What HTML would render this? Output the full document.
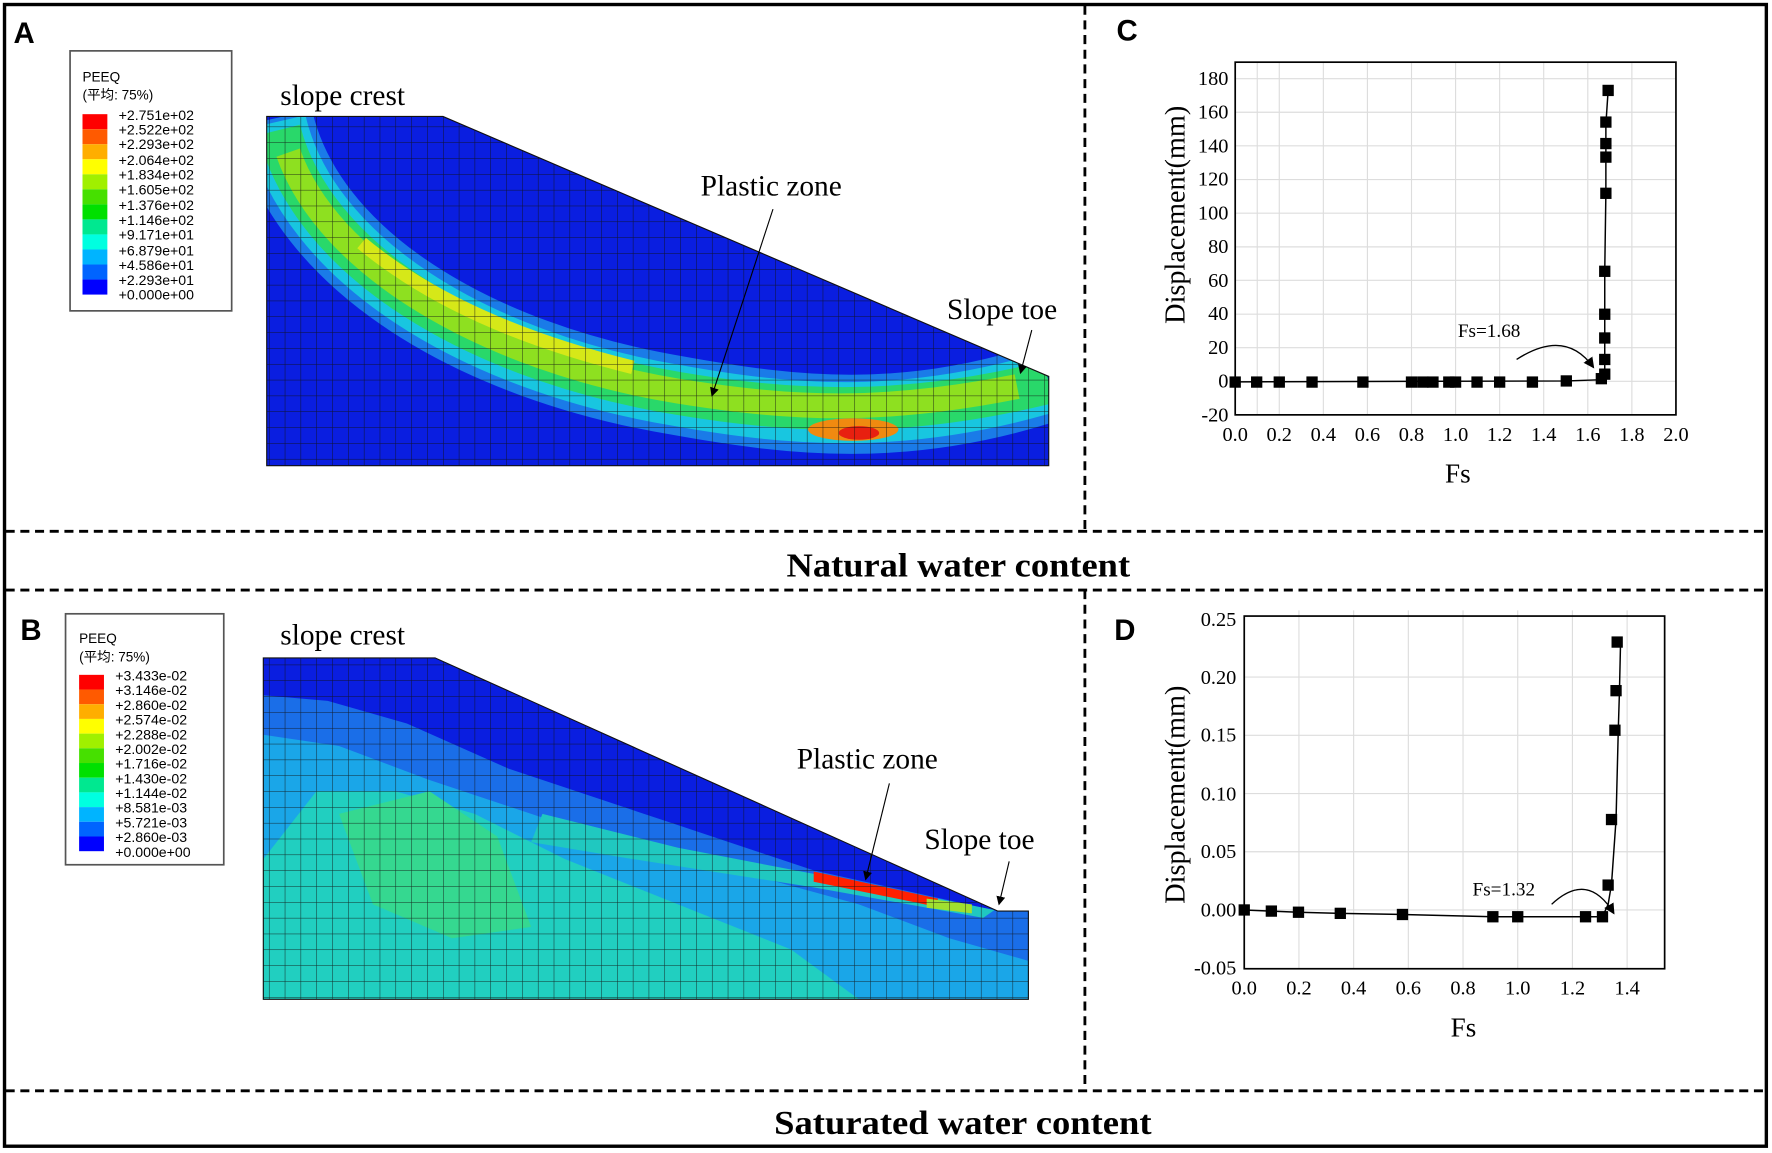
<!DOCTYPE html>
<html><head><meta charset="utf-8"><style>
html,body{margin:0;padding:0;background:#fff;}
svg{display:block;}
.t{font-family:"Liberation Serif",serif;}
.s{font-family:"Liberation Sans","Noto Sans CJK SC",sans-serif;}
</style></head><body>
<svg width="1772" height="1153" viewBox="0 0 1568 1020" preserveAspectRatio="none" xmlns="http://www.w3.org/2000/svg">
<defs>
<pattern id="mesh" width="14" height="14" patternUnits="userSpaceOnUse">
<path d="M0 0H14M0 0V14" stroke="#111" stroke-width="0.9" fill="none"/>
</pattern>
<clipPath id="ca"><polygon points="236,103 392,103 928,333 928,412 236,412"/></clipPath>
<clipPath id="cb"><polygon points="233,582 385,582 883,806 910,806 910,884 233,884"/></clipPath>
<marker id="ar" markerWidth="8" markerHeight="8" refX="7" refY="4" orient="auto"><path d="M0,0 L8,4 L0,8 z" fill="#000"/></marker>
</defs>
<rect x="0" y="0" width="1568" height="1020" fill="#fff"/>
<rect x="4" y="4" width="1559" height="1010" fill="none" stroke="#000" stroke-width="3"/>
<g stroke="#000" stroke-width="2.5" stroke-dasharray="8,5">
<line x1="960" y1="5" x2="960" y2="470"/>
<line x1="960" y1="522" x2="960" y2="965"/>
<line x1="5" y1="470" x2="1562" y2="470"/>
<line x1="5" y1="522" x2="1562" y2="522"/>
<line x1="5" y1="965" x2="1562" y2="965"/>
</g>
<text x="848" y="510" text-anchor="middle" class="t" font-size="30" font-weight="bold" textLength="304" lengthAdjust="spacingAndGlyphs">Natural water content</text>
<text x="852" y="1003" text-anchor="middle" class="t" font-size="30" font-weight="bold" textLength="334" lengthAdjust="spacingAndGlyphs">Saturated water content</text>
<g class="s" font-size="26" font-weight="bold">
<text x="12" y="38">A</text><text x="18" y="566">B</text>
<text x="988" y="36">C</text><text x="986" y="566">D</text>
</g>

<!-- Panel A -->
<g clip-path="url(#ca)">
<rect x="236" y="103" width="692" height="309" fill="#0a1ee0"/>
<path d="M242 105 C270 230 420 320 600 350 C700 368 800 380 928 338" fill="none" stroke="#1a7be8" stroke-width="70"/>
<path d="M244 108 C272 230 420 320 600 350 C700 368 800 376 928 338" fill="none" stroke="#18c6e0" stroke-width="54"/>
<path d="M247 115 C276 230 420 318 600 348 C700 365 800 370 928 338" fill="none" stroke="#29d86a" stroke-width="38"/>
<path d="M255 135 C290 235 430 318 600 346 C700 362 780 366 900 342" fill="none" stroke="#8ee020" stroke-width="22"/>
<path d="M320 215 C380 265 460 300 560 325" fill="none" stroke="#d6e818" stroke-width="12"/>
<ellipse cx="755" cy="380" rx="40" ry="10" fill="#f08a10"/>
<ellipse cx="760" cy="383" rx="18" ry="6" fill="#e82010"/>
<rect x="236" y="103" width="692" height="309" fill="url(#mesh)" opacity="0.85"/>
</g>
<polygon points="236,103 392,103 928,333 928,412 236,412" fill="none" stroke="#111" stroke-width="1"/>
<rect x="62" y="45" width="143" height="230" fill="#fff" stroke="#555" stroke-width="1.5"/>
<text x="73" y="72" class="s" font-size="12">PEEQ</text>
<text x="73" y="88" class="s" font-size="12">(平均: 75%)</text>
<g>
<rect x="73" y="101" width="22" height="13.3" fill="#ff0000"/>
<rect x="73" y="114.3" width="22" height="13.3" fill="#ff5a00"/>
<rect x="73" y="127.6" width="22" height="13.3" fill="#ffae00"/>
<rect x="73" y="140.9" width="22" height="13.3" fill="#ffff00"/>
<rect x="73" y="154.2" width="22" height="13.3" fill="#a0f000"/>
<rect x="73" y="167.5" width="22" height="13.3" fill="#46e000"/>
<rect x="73" y="180.8" width="22" height="13.3" fill="#00e000"/>
<rect x="73" y="194.1" width="22" height="13.3" fill="#00e890"/>
<rect x="73" y="207.4" width="22" height="13.3" fill="#00ffe0"/>
<rect x="73" y="220.7" width="22" height="13.3" fill="#00b4ff"/>
<rect x="73" y="234" width="22" height="13.3" fill="#0064ff"/>
<rect x="73" y="247.3" width="22" height="13.3" fill="#0000ff"/>
</g>
<g class="s" font-size="12.5">
<text x="105" y="106">+2.751e+02</text><text x="105" y="119">+2.522e+02</text><text x="105" y="132">+2.293e+02</text><text x="105" y="146">+2.064e+02</text><text x="105" y="159">+1.834e+02</text><text x="105" y="172">+1.605e+02</text><text x="105" y="186">+1.376e+02</text><text x="105" y="199">+1.146e+02</text><text x="105" y="212">+9.171e+01</text><text x="105" y="226">+6.879e+01</text><text x="105" y="239">+4.586e+01</text><text x="105" y="252">+2.293e+01</text><text x="105" y="265">+0.000e+00</text>
</g>
<g class="t" font-size="26">
<text x="248" y="93">slope crest</text>
<text x="620" y="173">Plastic zone</text>
<text x="838" y="282">Slope toe</text>
</g>
<line x1="684" y1="185" x2="630" y2="350" stroke="#000" stroke-width="1" marker-end="url(#ar)"/>
<line x1="913" y1="292" x2="903" y2="330" stroke="#000" stroke-width="1" marker-end="url(#ar)"/>

<!-- Panel B -->
<g clip-path="url(#cb)">
<rect x="233" y="582" width="677" height="302" fill="#0a1ee0"/>
<polygon points="233,615 290,620 360,640 450,680 600,730 720,770 883,806 910,806 910,884 233,884" fill="#1a6ee8"/>
<polygon points="233,650 300,660 380,690 500,730 650,770 760,800 840,830 910,850 910,884 233,884" fill="#1aa6e8"/>
<polygon points="233,760 280,700 350,700 420,720 500,760 600,800 700,840 760,884 233,884" fill="#21cfc0"/>
<polygon points="300,720 380,700 440,740 470,820 400,830 330,800" fill="#35d890"/>
<polygon points="480,720 600,750 730,775 880,805 870,812 720,785 560,760 470,745" fill="#20c8c0"/>
<polygon points="720,771 830,795 828,802 720,780" fill="#ff2000"/>
<polygon points="820,795 860,800 860,808 820,803" fill="#a0e030"/>
<rect x="233" y="582" width="677" height="302" fill="url(#mesh)" opacity="0.85"/>
</g>
<polygon points="233,582 385,582 883,806 910,806 910,884 233,884" fill="none" stroke="#111" stroke-width="1"/>
<rect x="58" y="543" width="140" height="222" fill="#fff" stroke="#555" stroke-width="1.5"/>
<text x="70" y="569" class="s" font-size="12">PEEQ</text>
<text x="70" y="585" class="s" font-size="12">(平均: 75%)</text>
<g>
<rect x="70" y="597" width="22" height="13" fill="#ff0000"/>
<rect x="70" y="610" width="22" height="13" fill="#ff5a00"/>
<rect x="70" y="623" width="22" height="13" fill="#ffae00"/>
<rect x="70" y="636" width="22" height="13" fill="#ffff00"/>
<rect x="70" y="649" width="22" height="13" fill="#a0f000"/>
<rect x="70" y="662" width="22" height="13" fill="#46e000"/>
<rect x="70" y="675" width="22" height="13" fill="#00e000"/>
<rect x="70" y="688" width="22" height="13" fill="#00e890"/>
<rect x="70" y="701" width="22" height="13" fill="#00ffe0"/>
<rect x="70" y="714" width="22" height="13" fill="#00b4ff"/>
<rect x="70" y="727" width="22" height="13" fill="#0064ff"/>
<rect x="70" y="740" width="22" height="13" fill="#0000ff"/>
</g>
<g class="s" font-size="12.5">
<text x="102" y="602">+3.433e-02</text><text x="102" y="615">+3.146e-02</text><text x="102" y="628">+2.860e-02</text><text x="102" y="641">+2.574e-02</text><text x="102" y="654">+2.288e-02</text><text x="102" y="667">+2.002e-02</text><text x="102" y="680">+1.716e-02</text><text x="102" y="693">+1.430e-02</text><text x="102" y="706">+1.144e-02</text><text x="102" y="719">+8.581e-03</text><text x="102" y="732">+5.721e-03</text><text x="102" y="745">+2.860e-03</text><text x="102" y="758">+0.000e+00</text>
</g>
<g class="t" font-size="26">
<text x="248" y="570">slope crest</text>
<text x="705" y="680">Plastic zone</text>
<text x="818" y="751">Slope toe</text>
</g>
<line x1="787" y1="693" x2="766" y2="778" stroke="#000" stroke-width="1" marker-end="url(#ar)"/>
<line x1="893" y1="762" x2="884" y2="800" stroke="#000" stroke-width="1" marker-end="url(#ar)"/>

<!-- Panel C -->
<g stroke="#ddd" stroke-width="1">
<line x1="1112.5" y1="55" x2="1112.5" y2="367"/><line x1="1132" y1="55" x2="1132" y2="367"/><line x1="1171" y1="55" x2="1171" y2="367"/><line x1="1210" y1="55" x2="1210" y2="367"/><line x1="1249" y1="55" x2="1249" y2="367"/><line x1="1288" y1="55" x2="1288" y2="367"/><line x1="1327" y1="55" x2="1327" y2="367"/><line x1="1366" y1="55" x2="1366" y2="367"/><line x1="1405" y1="55" x2="1405" y2="367"/><line x1="1444" y1="55" x2="1444" y2="367"/>
<line x1="1093" y1="69.6" x2="1483" y2="69.6"/><line x1="1093" y1="99.3" x2="1483" y2="99.3"/><line x1="1093" y1="129" x2="1483" y2="129"/><line x1="1093" y1="158.9" x2="1483" y2="158.9"/><line x1="1093" y1="188.6" x2="1483" y2="188.6"/><line x1="1093" y1="218.4" x2="1483" y2="218.4"/><line x1="1093" y1="248" x2="1483" y2="248"/><line x1="1093" y1="277.9" x2="1483" y2="277.9"/><line x1="1093" y1="307.6" x2="1483" y2="307.6"/><line x1="1093" y1="337.3" x2="1483" y2="337.3"/>
</g>
<rect x="1093" y="55" width="390" height="312" fill="none" stroke="#000" stroke-width="1.5"/>
<g class="t" font-size="18" text-anchor="end">
<text x="1087" y="75">180</text><text x="1087" y="105">160</text><text x="1087" y="135">140</text><text x="1087" y="164">120</text><text x="1087" y="194">100</text><text x="1087" y="224">80</text><text x="1087" y="254">60</text><text x="1087" y="283">40</text><text x="1087" y="313">20</text><text x="1087" y="343">0</text><text x="1087" y="373">-20</text>
</g>
<g class="t" font-size="18" text-anchor="middle">
<text x="1093" y="390">0.0</text><text x="1132" y="390">0.2</text><text x="1171" y="390">0.4</text><text x="1210" y="390">0.6</text><text x="1249" y="390">0.8</text><text x="1288" y="390">1.0</text><text x="1327" y="390">1.2</text><text x="1366" y="390">1.4</text><text x="1405" y="390">1.6</text><text x="1444" y="390">1.8</text><text x="1483" y="390">2.0</text>
</g>
<text x="1290" y="427" class="t" font-size="24" text-anchor="middle">Fs</text>
<text transform="translate(1048,190) rotate(-90)" class="t" font-size="25" text-anchor="middle">Displacement(mm)</text>
<polyline fill="none" stroke="#000" stroke-width="1.3" points="1093,337.8 1386,337 1415,336 1418,334 1420,331 1420,318 1420,299 1420,278 1420,240 1421,171 1421,141 1421,130 1421,110 1423,80"/>
<g fill="#000">
<rect x="1088" y="333" width="10" height="10"/><rect x="1107" y="333" width="10" height="10"/><rect x="1127" y="333" width="10" height="10"/><rect x="1156" y="333" width="10" height="10"/><rect x="1201" y="333" width="10" height="10"/><rect x="1244" y="333" width="10" height="10"/><rect x="1254" y="333" width="10" height="10"/><rect x="1263" y="333" width="10" height="10"/><rect x="1277" y="333" width="10" height="10"/><rect x="1283" y="333" width="10" height="10"/><rect x="1302" y="333" width="10" height="10"/><rect x="1322" y="333" width="10" height="10"/><rect x="1351" y="333" width="10" height="10"/><rect x="1381" y="332" width="10" height="10"/><rect x="1412" y="330" width="10" height="10"/><rect x="1415" y="326" width="10" height="10"/><rect x="1415" y="313" width="10" height="10"/><rect x="1415" y="294" width="10" height="10"/><rect x="1415" y="273" width="10" height="10"/><rect x="1415" y="235" width="10" height="10"/><rect x="1416" y="166" width="10" height="10"/><rect x="1416" y="134" width="10" height="10"/><rect x="1416" y="122" width="10" height="10"/><rect x="1416" y="103" width="10" height="10"/><rect x="1418" y="75" width="10" height="10"/>
</g>
<text x="1290" y="298" class="t" font-size="17">Fs=1.68</text>
<path d="M1342 318 Q1385 290 1410 325" fill="none" stroke="#000" stroke-width="1.2" marker-end="url(#ar)"/>

<!-- Panel D -->
<g stroke="#ddd" stroke-width="1">
<line x1="1149.4" y1="540" x2="1149.4" y2="857"/><line x1="1197.8" y1="540" x2="1197.8" y2="857"/><line x1="1246.2" y1="540" x2="1246.2" y2="857"/><line x1="1294.6" y1="540" x2="1294.6" y2="857"/><line x1="1343" y1="540" x2="1343" y2="857"/><line x1="1391.4" y1="540" x2="1391.4" y2="857"/><line x1="1439.8" y1="540" x2="1439.8" y2="857"/>
<line x1="1101" y1="805" x2="1473" y2="805"/><line x1="1101" y1="753.5" x2="1473" y2="753.5"/><line x1="1101" y1="702" x2="1473" y2="702"/><line x1="1101" y1="650.5" x2="1473" y2="650.5"/><line x1="1101" y1="599" x2="1473" y2="599"/>
</g>
<rect x="1101" y="545" width="372" height="312" fill="none" stroke="#000" stroke-width="1.5"/>
<g class="t" font-size="18" text-anchor="end">
<text x="1094" y="554">0.25</text><text x="1094" y="605">0.20</text><text x="1094" y="656">0.15</text><text x="1094" y="708">0.10</text><text x="1094" y="759">0.05</text><text x="1094" y="811">0.00</text><text x="1094" y="862">-0.05</text>
</g>
<g class="t" font-size="18" text-anchor="middle">
<text x="1101" y="880">0.0</text><text x="1149.4" y="880">0.2</text><text x="1197.8" y="880">0.4</text><text x="1246.2" y="880">0.6</text><text x="1294.6" y="880">0.8</text><text x="1343" y="880">1.0</text><text x="1391.4" y="880">1.2</text><text x="1439.8" y="880">1.4</text>
</g>
<text x="1295" y="917" class="t" font-size="24" text-anchor="middle">Fs</text>
<text transform="translate(1048,703) rotate(-90)" class="t" font-size="25" text-anchor="middle">Displacement(mm)</text>
<polyline fill="none" stroke="#000" stroke-width="1.3" points="1101,805 1125,806 1149,807 1186,808 1241,809 1321,811 1343,811 1403,811 1418,811 1423,800 1426,782 1430,725 1432,645 1433,612 1434,568"/>
<g fill="#000">
<rect x="1096" y="800" width="10" height="10"/><rect x="1120" y="801" width="10" height="10"/><rect x="1144" y="802" width="10" height="10"/><rect x="1181" y="803" width="10" height="10"/><rect x="1236" y="804" width="10" height="10"/><rect x="1316" y="806" width="10" height="10"/><rect x="1338" y="806" width="10" height="10"/><rect x="1398" y="806" width="10" height="10"/><rect x="1413" y="806" width="10" height="10"/><rect x="1418" y="778" width="10" height="10"/><rect x="1421" y="720" width="10" height="10"/><rect x="1424" y="641" width="10" height="10"/><rect x="1425" y="606" width="10" height="10"/><rect x="1426" y="563" width="10" height="10"/>
</g>
<text x="1303" y="792" class="t" font-size="17">Fs=1.32</text>
<path d="M1373 800 Q1405 770 1428 808" fill="none" stroke="#000" stroke-width="1.2" marker-end="url(#ar)"/>
</svg>
</body></html>
